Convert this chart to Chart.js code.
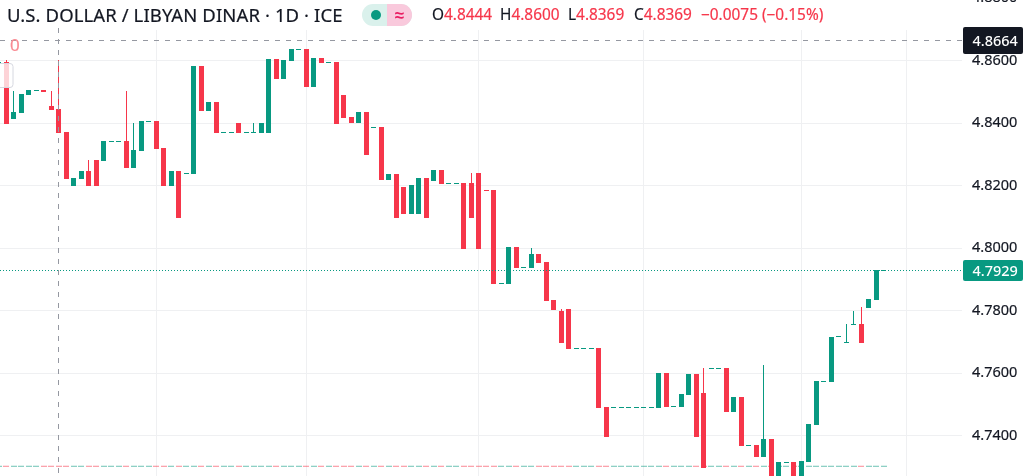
<!DOCTYPE html>
<html>
<head>
<meta charset="utf-8">
<title>USD/LYD</title>
<script src="https://cdn.jsdelivr.net/npm/chart.js@4"></script>
<style>
    html, body { margin: 0; padding: 0; background: #fff; overflow: hidden; }
    #wrap { position: relative; width: 1032px; height: 476px; overflow: hidden; font-family: "Noto Sans", sans-serif; }
    #chart { position: absolute; left: 0; top: 0; }
    .t { position: absolute; white-space: pre; line-height: 20px; color: #131722; -webkit-text-stroke: 0.2px; }
    .red { color: #f6364a; }
    #title { left: 7px; top: 5px; font-size: 18.5px; letter-spacing: 0.1px; line-height: 20px; }
    #pill { position: absolute; left: 362px; top: 4px; width: 50px; height: 22px; border-radius: 11px; overflow: hidden; background: #daf1ec; }
    #pillRight { position: absolute; left: 25px; top: 0; width: 25px; height: 22px; background: #f9c9dc; }
    #dot { position: absolute; left: 9px; top: 6px; width: 10px; height: 10px; border-radius: 50%; background: #089981; }
    #approx { position: absolute; left: 0; top: 0; width: 25px; text-align: center; line-height: 21px; font-size: 17px; font-weight: bold; color: #e91e63; }
    #zero { left: 10px; top: 35px; font-size: 17px; color: #f98a92; }
    .ohlc { top: 5px; font-size: 15.4px; }
</style>
</head>
<body>
<div id="wrap">
    <canvas id="chart" width="1032" height="476"></canvas>
    <div class="t" id="title">U.S. DOLLAR / LIBYAN DINAR · 1D · ICE</div>
    <div id="pill"><div id="dot"></div><div id="pillRight"><div id="approx">≈</div></div></div>
    <div class="t ohlc" style="left:432px">O<span class="red">4.8444</span></div>
    <div class="t ohlc" style="left:500px">H<span class="red">4.8600</span></div>
    <div class="t ohlc" style="left:568px">L<span class="red">4.8369</span></div>
    <div class="t ohlc" style="left:634px">C<span class="red">4.8369</span></div>
    <div class="t ohlc red" style="left:701px">−0.0075 (−0.15%)</div>
    <div class="t" id="zero">0</div>
</div>
<script>
// Daily bars. The first one sits at bar index -1
const firstDay = -1;
const opens = [
    4.8594,
    4.8594, 4.8413, 4.8432, 4.8490, 4.8505, 4.8506, 4.8455, 4.8444, 4.8371, 4.8199,
    4.8221, 4.8247, 4.8282, 4.8279, 4.8342, 4.8342, 4.8343, 4.8256, 4.8311, 4.8406,
    4.8407, 4.8320, 4.8199, 4.8247, 4.8239, 4.8237, 4.8582, 4.8439, 4.8467, 4.8370,
    4.8370, 4.8400, 4.8370, 4.8370, 4.8369, 4.8369, 4.8605, 4.8541, 4.8598, 4.8636,
    4.8637, 4.8515, 4.8608, 4.8594, 4.8595, 4.8490, 4.8419, 4.8400, 4.8435, 4.8386,
    4.8387, 4.8218, 4.8237, 4.8196, 4.8109, 4.8109, 4.8224, 4.8215, 4.8250, 4.8207,
    4.8207, 4.8208, 4.8208, 4.8240, 4.8186, 4.8186, 4.7888, 4.7886, 4.8004, 4.7939,
    4.7937, 4.7981, 4.7956, 4.7834, 4.7799, 4.7806, 4.7680, 4.7680, 4.7680, 4.7681,
    4.7492, 4.7491, 4.7491, 4.7491, 4.7491, 4.7491, 4.7491, 4.7489, 4.7601, 4.7494,
    4.7492, 4.7531, 4.7598, 4.7537, 4.7616, 4.7616, 4.7617, 4.7476, 4.7524, 4.7370,
    4.7371, 4.7332, 4.7390, 4.7250, 4.7315, 4.7316, 4.7250, 4.7316, 4.7435, 4.7574,
    4.7572, 4.7718, 4.7699, 4.7757, 4.7758, 4.7809, 4.7834, 4.7929
];
const closes = [
    4.8594,
    4.8398, 4.8435, 4.8493, 4.8506, 4.8505, 4.8499, 4.8442, 4.8369, 4.8221, 4.8224,
    4.8247, 4.8199, 4.8199, 4.8343, 4.8342, 4.8342, 4.8256, 4.8314, 4.8407, 4.8406,
    4.8317, 4.8199, 4.8247, 4.8097, 4.8239, 4.8582, 4.8439, 4.8467, 4.8369, 4.8370,
    4.8370, 4.8369, 4.8370, 4.8370, 4.8400, 4.8605, 4.8541, 4.8602, 4.8637, 4.8636,
    4.8515, 4.8608, 4.8592, 4.8594, 4.8398, 4.8416, 4.8400, 4.8435, 4.8298, 4.8386,
    4.8218, 4.8237, 4.8097, 4.8109, 4.8202, 4.8224, 4.8097, 4.8250, 4.8205, 4.8207,
    4.8207, 4.7997, 4.8097, 4.7997, 4.8185, 4.7886, 4.7888, 4.8004, 4.7937, 4.7939,
    4.7981, 4.7953, 4.7831, 4.7802, 4.7697, 4.7678, 4.7680, 4.7680, 4.7680, 4.7489,
    4.7396, 4.7491, 4.7491, 4.7491, 4.7491, 4.7491, 4.7491, 4.7601, 4.7492, 4.7494,
    4.7534, 4.7598, 4.7396, 4.7298, 4.7616, 4.7616, 4.7476, 4.7524, 4.7368, 4.7370,
    4.7332, 4.7390, 4.7250, 4.7316, 4.7315, 4.7250, 4.7320, 4.7438, 4.7575, 4.7574,
    4.7716, 4.7718, 4.7699, 4.7757, 4.7697, 4.7838, 4.7930, 4.7929
];
// Only these days show a wick above the body
const wickDays = [0, 1, 6, 7, 11, 16, 17, 33, 62, 70, 74, 93, 101, 112, 113, 114];
const wickHighs = [4.8602, 4.8504, 4.8502, 4.8600, 4.8282, 4.8502, 4.8400, 4.8400, 4.8240, 4.8001, 4.7806, 4.7617, 4.7627, 4.7758, 4.7799, 4.7812];
// Volume is a flat row of tiny bars on its own hidden axis
const volumes = [
    1.3,
    1.3, 1.3, 1.3, 1.3, 1.3, 1.3, 1.3, 1.3, 1.3, 1.3, 1.3, 1.3, 1.3, 1.3, 1.3, 1.3, 1.3, 1.3, 1.3, 1.3,
    1.3, 1.3, 1.3, 1.3, 1.3, 1.3, 1.3, 1.3, 1.3, 1.3, 1.3, 1.3, 1.3, 1.3, 1.3, 1.3, 1.3, 1.3, 1.3, 1.3,
    1.3, 1.3, 1.3, 1.3, 1.3, 1.3, 1.3, 1.3, 1.3, 1.3, 1.3, 1.3, 1.3, 1.3, 1.3, 1.3, 1.3, 1.3, 1.3, 1.3,
    1.3, 1.3, 1.3, 1.3, 1.3, 1.3, 1.3, 1.3, 1.3, 1.3, 1.3, 1.3, 1.3, 1.3, 1.3, 1.3, 1.3, 1.3, 1.3, 1.3,
    1.3, 1.3, 1.3, 1.3, 1.3, 1.3, 1.3, 1.3, 1.3, 1.3, 1.3, 1.3, 1.3, 1.3, 1.3, 1.3, 1.3, 1.3, 1.3, 1.3,
    1.3, 1.3, 1.3, 1.3, 1.3, 1.3, 1.3, 1.3, 1.3, 1.3, 1.3, 1.3, 1.3, 1.3, 1.3, 1.3, 1.3, 1.3
];
const priceTicks = [4.74, 4.76, 4.78, 4.80, 4.82, 4.84, 4.86, 4.88];
const monthGridDays = [20, 40, 63, 85, 106, 120];
const crosshairDay = 7;
const crosshairPrice = 4.8664;
const lastPrice = 4.7929;

const UP = '#089981';
const DOWN = '#f6364a';
const UP_SOFT = 'rgba(8, 153, 129, 0.46)';
const DOWN_SOFT = 'rgba(246, 54, 74, 0.46)';
const GRID = '#eff0f2';
const AXIS_WIDTH = 70;

const dayOf = i => i + firstDay;
const isUp = i => closes[i] >= opens[i];

const bodyData = opens.map((o, i) => ({ x: dayOf(i), y: [o, closes[i]] }));
const wickData = wickDays.map((d, n) => {
    const i = d - firstDay;
    return { x: d, y: [Math.max(opens[i], closes[i]), wickHighs[n]] };
});
const volumeData = volumes.map((v, i) => ({ x: dayOf(i), y: v }));

// Snap bars to whole pixels, the reference has no blurred edges.
// Volume keeps its fractional height, it is the one soft row in the picture
const snapBars = {
    id: 'snapBars',
    afterDatasetsUpdate(chart) {
        chart.data.datasets.forEach((ds, n) => {
            chart.getDatasetMeta(n).data.forEach(el => {
                const half = el.width / 2;
                el.x = Math.round(el.x - half) + half;
                if (ds.yAxisID === 'volume') return;
                el.y = Math.round(el.y);
                el.base = Math.round(el.base);
                if (el.y === el.base) el.base = el.y + 1;
            });
        });
    }
};

// Header background, crosshair, price lines and the price tags
const overlays = {
    id: 'overlays',
    beforeDatasetsDraw(chart) {
        const ctx = chart.ctx;
        ctx.save();
        ctx.fillStyle = '#fff';
        ctx.fillRect(0, 0, chart.chartArea.right, 30);
        ctx.restore();
    },
    afterDraw(chart) {
        const ctx = chart.ctx;
        const area = chart.chartArea;
        const xs = chart.scales.x;
        const ys = chart.scales.y;
        const crossX = Math.floor(xs.getPixelForValue(crosshairDay)) + 0.5;
        const crossY = Math.floor(ys.getPixelForValue(crosshairPrice)) + 0.5;
        const lastY = Math.floor(ys.getPixelForValue(lastPrice)) + 0.5;

        ctx.save();
        ctx.lineWidth = 1;

        // small tag of the indicator at the left edge
        ctx.fillStyle = 'rgba(255, 255, 255, 0.78)';
        ctx.strokeStyle = '#d6d8e0';
        ctx.beginPath();
        ctx.roundRect(-6.5, 63.5, 19.5, 24, 3);
        ctx.fill();
        ctx.stroke();

        ctx.strokeStyle = UP;
        ctx.setLineDash([1, 2]);
        ctx.beginPath();
        ctx.moveTo(0, lastY);
        ctx.lineTo(area.right, lastY);
        ctx.stroke();

        ctx.strokeStyle = '#9598a1';
        ctx.setLineDash([5, 6]);
        ctx.beginPath();
        ctx.moveTo(0, crossY);
        ctx.lineTo(area.right, crossY);
        ctx.moveTo(crossX, 28);
        ctx.lineTo(crossX, 473);
        ctx.stroke();
        ctx.setLineDash([]);

        drawTag(ctx, crosshairPrice, 27, 27, '#131722', area.right);
        drawTag(ctx, lastPrice, 260, 21, UP, area.right);
        ctx.restore();
    }
};

function drawTag(ctx, price, top, height, color, left) {
    ctx.fillStyle = color;
    ctx.beginPath();
    ctx.roundRect(left + 1, top, 60, height, 2);
    ctx.fill();
    ctx.fillStyle = '#fff';
    ctx.font = '500 14.5px "Noto Sans"';
    ctx.textBaseline = 'middle';
    ctx.textAlign = 'left';
    ctx.fillText(price.toFixed(4), left + 10.5, top + height / 2 + 1);
}

new Chart(document.getElementById('chart'), {
    type: 'bar',
    data: {
        datasets: [
            {
                data: bodyData,
                order: 1,
                grouped: false,
                barThickness: 5,
                inflateAmount: 0,
                backgroundColor: bodyData.map((_, i) => isUp(i) ? UP : DOWN)
            },
            {
                data: wickData,
                order: 2,
                grouped: false,
                barThickness: 1,
                inflateAmount: 0,
                backgroundColor: wickDays.map(d => isUp(d - firstDay) ? UP : DOWN)
            },
            {
                data: volumeData,
                order: 3,
                yAxisID: 'volume',
                grouped: false,
                barThickness: 6,
                inflateAmount: 0,
                backgroundColor: volumeData.map((_, i) => isUp(i) ? UP_SOFT : DOWN_SOFT)
            }
        ]
    },
    plugins: [snapBars, overlays],
    options: {
        responsive: false,
        animation: false,
        events: [],
        plugins: {
            legend: { display: false },
            tooltip: { enabled: false }
        },
        scales: {
            x: {
                type: 'linear',
                offset: false,
                min: -0.8533,
                max: 127.41,
                grid: { color: GRID, drawTicks: false, offset: false },
                border: { display: false },
                ticks: { display: false },
                afterBuildTicks: scale => {
                    scale.ticks = monthGridDays.map(value => ({ value }));
                },
                afterFit: scale => {
                    scale.height = 0;
                    scale.paddingLeft = 0;
                    scale.paddingRight = 0;
                }
            },
            y: {
                position: 'right',
                min: 4.72717,
                max: 4.87934,
                grid: { color: GRID, drawTicks: false },
                border: { display: false },
                ticks: {
                    color: '#131722',
                    textStrokeColor: '#131722',
                    textStrokeWidth: 0.2,
                    padding: 10,
                    font: { family: '"Noto Sans"', size: 14.5 },
                    callback: value => value.toFixed(4)
                },
                afterBuildTicks: scale => {
                    scale.ticks = priceTicks.map(value => ({ value }));
                },
                afterFit: scale => {
                    scale.width = AXIS_WIDTH;
                    scale.paddingTop = 0;
                    scale.paddingBottom = 0;
                }
            },
            volume: {
                display: false,
                min: -9,
                max: 467
            }
        }
    }
});
</script>
</body>
</html>
